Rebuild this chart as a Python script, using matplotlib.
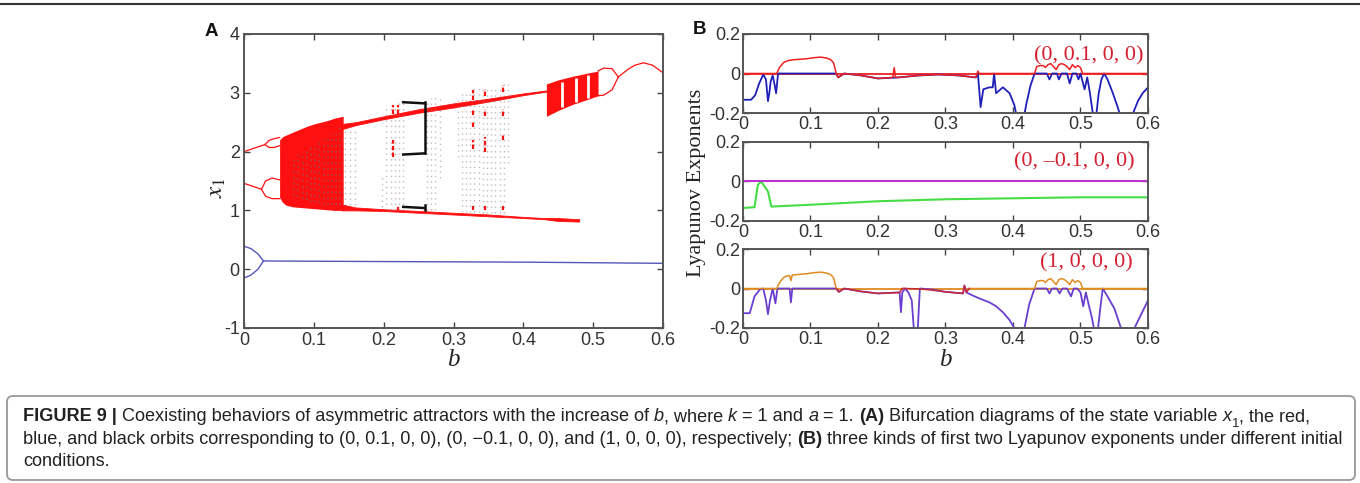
import numpy as np
import matplotlib
matplotlib.use("Agg")
import matplotlib.pyplot as plt
from matplotlib.transforms import IdentityTransform
from matplotlib.patches import FancyBboxPatch
from matplotlib.lines import Line2D

plt.rcParams['axes.unicode_minus'] = False

W, H = 1360, 483

# ====================== Panel A : bifurcation diagram ======================
# red orbit (0, 0.1, 0, 0) -- early period-2 branches
red_up0_b = [0.0, 0.01, 0.02, 0.03]
red_up0_y = [2.0, 2.04, 2.08, 2.12]
red_lo0_b = [0.0, 0.01, 0.02, 0.025]
red_lo0_y = [1.46, 1.42, 1.38, 1.36]
# small bubbles before chaos
red_ubub_b = [0.03, 0.036, 0.043, 0.051]
red_ubub_top = [2.12, 2.19, 2.22, 2.24]
red_ubub_bot = [2.12, 2.07, 2.07, 2.10]
red_lbub_b = [0.025, 0.031, 0.040, 0.051]
red_lbub_top = [1.36, 1.50, 1.55, 1.52]
red_lbub_bot = [1.36, 1.24, 1.20, 1.20]
# first chaotic band
band1_b = [0.051, 0.055, 0.06, 0.07, 0.08, 0.09, 0.10, 0.11, 0.12, 0.13, 0.142]
band1_top = [2.20, 2.25, 2.28, 2.33, 2.38, 2.43, 2.47, 2.50, 2.53, 2.57, 2.60]
band1_bot = [1.22, 1.14, 1.09, 1.06, 1.05, 1.04, 1.03, 1.02, 1.01, 1.00, 1.00]
# grey speckles inside first band
spk_b = [0.072, 0.078, 0.084, 0.090, 0.096, 0.102, 0.108, 0.114, 0.120, 0.126, 0.132, 0.138]
spk_lo = [1.25, 1.22, 1.20, 1.18, 1.15, 1.15, 1.12, 1.10, 1.10, 1.10, 1.10, 1.10]
spk_hi = [1.85, 1.95, 2.00, 2.05, 2.10, 2.10, 2.15, 2.20, 2.25, 2.30, 2.35, 2.40]
# upper thin band after 0.14
up_b = [0.14, 0.16, 0.20, 0.25, 0.30, 0.35, 0.40, 0.433]
up_lo = [2.38, 2.45, 2.55, 2.66, 2.75, 2.85, 2.96, 3.02]
up_hi = [2.47, 2.50, 2.60, 2.72, 2.82, 2.90, 2.99, 3.04]
# lower thin band after 0.14
dn_b = [0.14, 0.16, 0.20, 0.25, 0.30, 0.35, 0.40, 0.43, 0.45, 0.48]
dn_lo = [1.00, 1.00, 0.99, 0.96, 0.93, 0.90, 0.87, 0.85, 0.82, 0.81]
dn_hi = [1.10, 1.05, 1.02, 0.99, 0.96, 0.93, 0.89, 0.87, 0.87, 0.85]
# second chaotic band
band2_b = [0.433, 0.45, 0.47, 0.49, 0.507]
band2_top = [3.15, 3.22, 3.28, 3.33, 3.37]
band2_bot = [2.60, 2.70, 2.80, 2.88, 2.95]
gap2_b = [0.455, 0.476, 0.492]
gap2_lo = [2.75, 2.84, 2.92]
gap2_hi = [3.18, 3.26, 3.30]
# bubble and final period-1 curve
bub3_b = [0.507, 0.515, 0.527, 0.536]
bub3_top = [3.37, 3.42, 3.41, 3.27]
bub3_bot = [2.95, 2.96, 3.05, 3.27]
tail_b = [0.536, 0.55, 0.56, 0.572, 0.585, 0.60]
tail_y = [3.27, 3.40, 3.47, 3.51, 3.47, 3.34]
# sparse transient columns
sparse_b = [0.145, 0.152, 0.159, 0.198, 0.204, 0.210, 0.216, 0.222, 0.228, 0.262,
            0.268, 0.274, 0.280, 0.306, 0.312, 0.318, 0.324, 0.330, 0.336, 0.342,
            0.348, 0.354, 0.360, 0.366, 0.372, 0.378]
sparse_lo = [1.10, 1.10, 1.10, 1.05, 1.00, 1.00, 1.00, 1.00, 1.00, 1.00,
             1.00, 1.00, 1.55, 1.90, 0.98, 0.98, 0.98, 0.97, 0.97, 0.96,
             0.96, 0.96, 0.95, 0.95, 0.95, 1.80]
sparse_hi = [2.40, 2.40, 2.40, 1.60, 2.80, 2.80, 2.80, 2.82, 2.85, 2.90,
             2.92, 2.93, 2.95, 2.90, 3.00, 3.05, 3.05, 3.08, 3.08, 3.10,
             3.10, 3.10, 3.12, 3.12, 3.15, 3.15]
# red clusters
clus_b = [0.213, 0.213, 0.220, 0.220, 0.328, 0.328, 0.328, 0.328, 0.328,
          0.345, 0.345, 0.345, 0.345, 0.371, 0.371, 0.371, 0.371]
clus_lo = [2.64, 1.90, 2.64, 1.00, 2.88, 2.62, 2.05, 1.00, 2.42,
           2.95, 2.60, 2.00, 1.00, 3.02, 2.60, 2.20, 1.00]
clus_hi = [2.80, 2.20, 2.80, 1.06, 3.05, 2.70, 2.20, 1.07, 2.50,
           3.07, 2.72, 2.24, 1.07, 3.13, 2.72, 2.30, 1.07]
# black orbit (1, 0, 0, 0)
black_x = [[0.228, 0.259], [0.228, 0.259], [0.228, 0.259], [0.259, 0.259], [0.259, 0.259]]
black_y = [[2.84, 2.82], [1.95, 1.97], [1.06, 1.04], [1.97, 2.84], [1.00, 1.10]]
# blue orbit (0, -0.1, 0, 0)
blue_bub_b = [0.0, 0.01, 0.02, 0.028]
blue_bub_top = [0.39, 0.35, 0.26, 0.14]
blue_bub_bot = [-0.15, -0.10, 0.00, 0.14]
blue_line_b = [0.028, 0.2, 0.4, 0.6]
blue_line_y = [0.14, 0.13, 0.12, 0.10]

# ====================== Panel B : Lyapunov exponents ======================
# (0, 0.1, 0, 0)
le1_top_b = [0.0, 0.05, 0.054, 0.06, 0.066, 0.075, 0.085, 0.095, 0.105, 0.115, 0.124,
             0.13, 0.134, 0.136, 0.138, 0.141, 0.15, 0.175, 0.2, 0.222, 0.224, 0.226,
             0.23, 0.26, 0.29, 0.32, 0.345, 0.348, 0.35, 0.432, 0.435, 0.44, 0.445,
             0.448, 0.452, 0.456, 0.46, 0.464, 0.468, 0.472, 0.476, 0.48, 0.484, 0.488,
             0.492, 0.496, 0.5, 0.503, 0.6]
le1_top = [0.0, 0.0, 0.03, 0.055, 0.065, 0.07, 0.072, 0.075, 0.08, 0.083, 0.078,
           0.07, 0.055, 0.03, 0.0, -0.02, 0.0, -0.01, -0.025, -0.02, 0.03, -0.02,
           -0.02, -0.01, -0.005, -0.01, -0.02, 0.012, 0.0, 0.0, 0.035, 0.04, 0.04,
           0.03, 0.045, 0.05, 0.035, 0.02, 0.045, 0.05, 0.045, 0.035, 0.02, 0.045,
           0.03, 0.04, 0.03, 0.0, 0.0]
le2_top_b = [0.0, 0.012, 0.018, 0.024, 0.03, 0.034, 0.037, 0.039, 0.041, 0.044, 0.047,
             0.049, 0.052, 0.138, 0.141, 0.15, 0.175, 0.2, 0.23, 0.26, 0.29, 0.32,
             0.345, 0.348, 0.352, 0.356, 0.365, 0.37, 0.372, 0.375, 0.385, 0.395,
             0.402, 0.408, 0.414, 0.42, 0.426, 0.432, 0.45, 0.454, 0.458, 0.465,
             0.468, 0.472, 0.48, 0.484, 0.488, 0.494, 0.497, 0.5, 0.506, 0.51, 0.514,
             0.519, 0.523, 0.527, 0.531, 0.535, 0.54, 0.548, 0.556, 0.562, 0.57,
             0.578, 0.585, 0.592, 0.6]
le2_top = [-0.133, -0.133, -0.11, -0.05, -0.005, -0.03, -0.14, -0.1, -0.04, -0.01, -0.06,
           -0.1, 0.0, 0.0, -0.02, 0.0, -0.01, -0.025, -0.02, -0.01, -0.005, -0.01,
           -0.02, 0.0, -0.17, -0.08, -0.07, -0.07, 0.0, -0.1, -0.07, -0.1,
           -0.16, -0.26, -0.26, -0.15, -0.06, 0.0, 0.0, -0.03, 0.0, 0.0,
           -0.03, 0.0, 0.0, -0.05, 0.0, 0.0, -0.03, 0.0, -0.08, -0.02, -0.1,
           -0.22, -0.22, -0.1, -0.03, 0.0, -0.03, -0.1, -0.18, -0.25, -0.25,
           -0.2, -0.14, -0.1, -0.07]
# (0, -0.1, 0, 0)
le1_mid_b = [0.0, 0.6]
le1_mid = [0.0, 0.0]
le2_mid_b = [0.0, 0.017, 0.022, 0.027, 0.032, 0.037, 0.042, 0.104, 0.2, 0.3, 0.4, 0.5, 0.6]
le2_mid = [-0.134, -0.13, -0.017, 0.0, -0.026, -0.05, -0.127, -0.117, -0.1, -0.09,
           -0.085, -0.08, -0.08]
# (1, 0, 0, 0)
le1_bot_b = [0.0, 0.05, 0.054, 0.06, 0.066, 0.069, 0.071, 0.073, 0.085, 0.095, 0.105,
             0.115, 0.124, 0.13, 0.134, 0.136, 0.138, 0.142, 0.15, 0.175, 0.2, 0.232,
             0.236, 0.24, 0.262, 0.28, 0.3, 0.326, 0.328, 0.331, 0.335, 0.432, 0.435,
             0.44, 0.445, 0.448, 0.452, 0.456, 0.46, 0.464, 0.468, 0.472, 0.476, 0.48,
             0.484, 0.488, 0.492, 0.496, 0.5, 0.503, 0.6]
le1_bot = [0.0, 0.0, 0.03, 0.055, 0.065, 0.065, 0.04, 0.068, 0.072, 0.075, 0.08,
           0.083, 0.078, 0.07, 0.055, 0.03, 0.0, -0.017, 0.0, -0.015, -0.025, -0.02,
           0.0, 0.0, -0.002, -0.008, -0.017, -0.025, 0.015, -0.02, 0.0, 0.0, 0.035,
           0.04, 0.04, 0.03, 0.045, 0.05, 0.035, 0.02, 0.045, 0.05, 0.045, 0.035,
           0.02, 0.045, 0.03, 0.04, 0.03, 0.0, 0.0]
le2_bot_b = [0.0, 0.01, 0.017, 0.025, 0.03, 0.034, 0.037, 0.04, 0.044, 0.048, 0.051,
             0.069, 0.071, 0.073, 0.138, 0.142, 0.15, 0.175, 0.2, 0.232, 0.234, 0.236,
             0.24, 0.245, 0.25, 0.253, 0.256, 0.259, 0.262, 0.28, 0.3, 0.326, 0.328,
             0.331, 0.34, 0.35, 0.365, 0.375, 0.385, 0.395, 0.402, 0.408, 0.417,
             0.424, 0.432, 0.45, 0.454, 0.458, 0.465, 0.469, 0.473, 0.48, 0.486, 0.49,
             0.495, 0.5, 0.504, 0.508, 0.512, 0.517, 0.521, 0.526, 0.53, 0.533, 0.54,
             0.55, 0.56, 0.57, 0.58, 0.59, 0.6]
le2_bot = [-0.125, -0.125, -0.04, -0.005, 0.0, -0.06, -0.13, -0.06, 0.0, -0.075, 0.0,
           0.0, -0.07, 0.0, 0.0, -0.017, 0.0, -0.015, -0.025, -0.02, -0.12, -0.02,
           0.0, -0.02, -0.06, -0.2, -0.25, -0.2, 0.0, -0.005, -0.017, -0.025, 0.015,
           -0.02, -0.035, -0.05, -0.07, -0.09, -0.12, -0.16, -0.2, -0.25, -0.2,
           -0.08, 0.0, 0.0, -0.025, 0.0, 0.0, -0.025, 0.0, 0.0, -0.04, 0.0,
           0.0, -0.02, -0.09, -0.02, -0.08, -0.15, -0.22, -0.2, -0.08, 0.0, -0.04,
           -0.1, -0.2, -0.25, -0.2, -0.13, -0.06]

xticks_vals = [0, 0.1, 0.2, 0.3, 0.4, 0.5, 0.6]
xtick_labels = ["0", "0.1", "0.2", "0.3", "0.4", "0.5", "0.6"]
yticksA = [-1, 0, 1, 2, 3, 4]
ytick_labelsA = ["-1", "0", "1", "2", "3", "4"]
yticksB = [-0.2, 0, 0.2]
ytick_labelsB = ["-0.2", "0", "0.2"]
ic_labels = ["(0, 0.1, 0, 0)", "(0, \u20130.1, 0, 0)", "(1, 0, 0, 0)"]

caption_lines = [
    [("FIGURE 9 | ", "b"), ("Coexisting behaviors of asymmetric attractors with the increase of ", "n"),
     ("b", "i"), (", where ", "n"), ("k", "i"), (" = 1 and ", "n"), ("a", "i"), (" = 1. ", "n"),
     ("(A)", "b"), (" Bifurcation diagrams of the state variable ", "n"), ("x", "i"), ("1", "sub"),
     (", the red,", "n")],
    [("blue, and black orbits corresponding to (0, 0.1, 0, 0), (0, \u22120.1, 0, 0), and (1, 0, 0, 0), respectively; ", "n"),
     ("(B)", "b"), (" three kinds of first two Lyapunov exponents under different initial", "n")],
    [("conditions.", "n")],
]

# ============================== drawing ==============================
fig = plt.figure(figsize=(W / 100, H / 100), dpi=100)


def ax_rect(l, t, r, b):
    return [l / W, 1 - b / H, (r - l) / W, (b - t) / H]


SANS = "Liberation Sans"
SERIF = "Liberation Serif"
TICKC = "#333333"
SPINEC = "#555555"


def style_axes(ax, yt, ytl, ylim):
    ax.set_xlim(0, 0.6)
    ax.set_ylim(*ylim)
    ax.set_xticks(xticks_vals)
    ax.set_xticklabels(xtick_labels)
    ax.set_yticks(yt)
    ax.set_yticklabels(ytl)
    ax.tick_params(direction="in", top=True, right=True, length=4, width=1.0,
                   color="#444444", labelsize=13, labelcolor=TICKC, pad=3)
    for lab in ax.get_xticklabels() + ax.get_yticklabels():
        lab.set_family(SANS)
    for s in ax.spines.values():
        s.set_color(SPINEC)
        s.set_linewidth(1.4)


# ---- Panel A
axA = fig.add_axes(ax_rect(244, 34, 663, 328))
style_axes(axA, yticksA, ytick_labelsA, (-1, 4))
RED = "#ff1010"
lwA = 0.9
axA.plot(red_up0_b, red_up0_y, color=RED, lw=lwA)
axA.plot(red_lo0_b, red_lo0_y, color=RED, lw=lwA)
for bb, tt, bo in [(red_ubub_b, red_ubub_top, red_ubub_bot), (red_lbub_b, red_lbub_top, red_lbub_bot),
                   (bub3_b, bub3_top, bub3_bot)]:
    axA.plot(bb, tt, color=RED, lw=lwA)
    axA.plot(bb, bo, color=RED, lw=lwA)
axA.plot(tail_b, tail_y, color=RED, lw=lwA)
# sparse transients
axA.vlines(sparse_b, sparse_lo, sparse_hi, colors="#9a8080", lw=1.0, alpha=0.55,
           linestyles=[(0, (1, 3))])
axA.fill_between(band1_b, band1_bot, band1_top, color=RED, lw=0)
axA.vlines(spk_b, spk_lo, spk_hi, colors="#6a6a6a", lw=1.2, alpha=0.55,
           linestyles=[(0, (1, 2.5))])
axA.fill_between(up_b, up_lo, up_hi, color=RED, lw=0.6, edgecolor=RED)
axA.fill_between(dn_b, dn_lo, dn_hi, color=RED, lw=0.6, edgecolor=RED)
axA.fill_between(band2_b, band2_bot, band2_top, color=RED, lw=0)
axA.vlines(gap2_b, gap2_lo, gap2_hi, colors="white", lw=2.0)
axA.vlines(clus_b, clus_lo, clus_hi, colors=RED, lw=1.6, linestyles=[(0, (2, 1))])
for xs, ys in zip(black_x, black_y):
    axA.plot(xs, ys, color="#111111", lw=1.8)
BLUEA = "#5555bb"
axA.plot(blue_bub_b, blue_bub_top, color=BLUEA, lw=1.0)
axA.plot(blue_bub_b, blue_bub_bot, color=BLUEA, lw=1.0)
axA.plot(blue_line_b, blue_line_y, color=BLUEA, lw=1.0)
fig.text(453 / W, 1 - 360 / H, "b", family=SERIF, style="italic", fontsize=18,
         ha="center", va="center", color="#222222")
fig.text(216 / W, 1 - 188 / H, r"$x_1$", fontsize=18, rotation=90, ha="center", va="center",
         color="#222222", math_fontfamily="stix")
fig.text(211 / W, 1 - 31 / H, "A", family=SANS, weight="bold", fontsize=13.5,
         ha="center", va="center", color="#111111")

# ---- Panel B
rects = [(743, 34, 1148, 113), (743, 142, 1148, 221), (743, 249, 1148, 328)]
axT = fig.add_axes(ax_rect(*rects[0]))
axM = fig.add_axes(ax_rect(*rects[1]))
axB = fig.add_axes(ax_rect(*rects[2]))
for ax in (axT, axM, axB):
    style_axes(ax, yticksB, ytick_labelsB, (-0.2, 0.2))
    ax.tick_params(pad=2)

RED_L = "#ee2020"
BLUE_L = "#2020b8"
axT.axhline(0, color=RED_L, lw=1.3)
axT.plot(le2_top_b, le2_top, color=BLUE_L, lw=1.3)
axT.plot(le1_top_b, le1_top, color=RED_L, lw=1.1)

axM.plot(le2_mid_b, le2_mid, color="#44dd44", lw=1.5)
axM.plot(le1_mid_b, le1_mid, color="#bb33cc", lw=1.5)

ORANGE = "#e08a20"
PURPLE = "#6a3fd0"
axB.axhline(0, color=ORANGE, lw=1.3)
axB.plot(le2_bot_b, le2_bot, color=PURPLE, lw=1.3)
le1b = np.array(le1_bot)
neg = le1b < 0
near_neg = neg | np.r_[neg[1:], False] | np.r_[False, neg[:-1]]
pos_part = np.where(le1b >= 0, le1b, np.nan)
neg_part = np.where(near_neg, le1b, np.nan)
axB.plot(le1_bot_b, pos_part, color=ORANGE, lw=1.1)
axB.plot(le1_bot_b, neg_part, color="#c8283c", lw=1.1)

ann_pos = [(1143, 56), (1135, 162), (1133, 263)]
for (x, y), txt in zip(ann_pos, ic_labels):
    fig.text(x / W, 1 - y / H, txt, family=SERIF, fontsize=16, color="#d42030",
             ha="right", va="center")
fig.text(945 / W, 1 - 360 / H, "b", family=SERIF, style="italic", fontsize=18,
         ha="center", va="center", color="#222222")
fig.text(697 / W, 1 - 183 / H, "Lyapunov Exponents", family=SERIF, fontsize=16,
         rotation=90, ha="center", va="center", color="#222222")
fig.text(700 / W, 1 - 29 / H, "B", family=SANS, weight="bold", fontsize=13.5,
         ha="center", va="center", color="#111111")

# ---- frame lines
fig.add_artist(Line2D([0, 1], [1 - 4 / H, 1 - 4 / H], color="#333333", lw=1.5,
                      transform=fig.transFigure))
box = FancyBboxPatch((7, H - 480), 1348, 84, boxstyle="round,pad=0,rounding_size=6",
                     transform=IdentityTransform(), fill=False, edgecolor="#999999", lw=1.3)
fig.add_artist(box)

# ---- caption with mixed styles
renderer = fig.canvas.get_renderer()


def props(style, size):
    d = dict(family=SANS, fontsize=size, color="#222222")
    if style == "b":
        d["weight"] = "bold"
    elif style == "i":
        d["style"] = "italic"
    elif style == "sub":
        d["fontsize"] = size * 0.72
    return d


def run_width(txt, style, size):
    t1 = fig.text(0, 0, txt + "|", transform=IdentityTransform(), **props(style, size))
    t2 = fig.text(0, 0, "|", transform=IdentityTransform(), **props(style, size))
    w = t1.get_window_extent(renderer).width - t2.get_window_extent(renderer).width
    t1.remove()
    t2.remove()
    return w


def line_width(runs, size):
    return sum(run_width(t, s, size) for t, s in runs)


base = 12.5
target = 1318 - 23
size = base * target / line_width(caption_lines[0], base)
baselines = [421, 444, 466]
for runs, yb in zip(caption_lines, baselines):
    x = 23
    for txt, st in runs:
        dy = -size * 0.35 * 100 / 72 if st == "sub" else 0
        fig.text(x, H - yb + dy, txt, transform=IdentityTransform(), va="baseline",
                 ha="left", **props(st, size))
        x += run_width(txt, st, size)

fig.savefig("out.png", dpi=100)
